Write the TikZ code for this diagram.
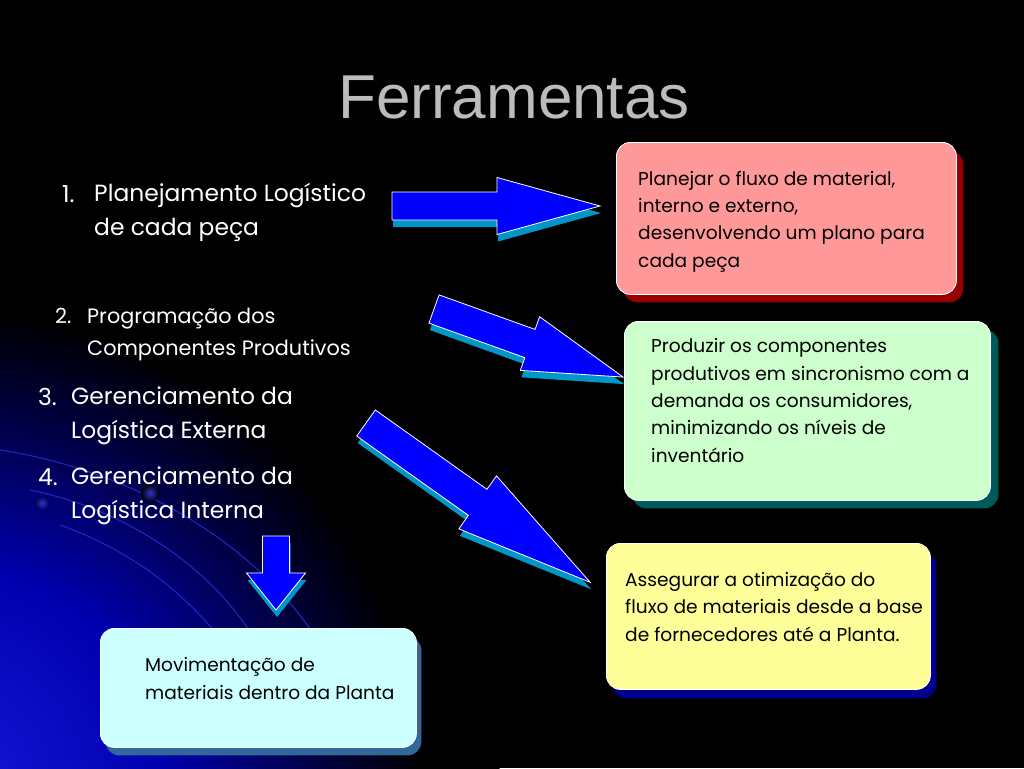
\documentclass[tikz,border=0pt]{standalone}
\usepackage{fontspec}
\setmainfont{Poppins}
\newfontfamily\titlefont{Liberation Sans}
\usetikzlibrary{calc,shadows}

\definecolor{glowA}{RGB}{25,25,220}
\definecolor{glowB}{RGB}{0,0,175}
\definecolor{glowC}{RGB}{0,0,80}
\definecolor{arcblue}{RGB}{35,35,190}
\definecolor{dotblue}{RGB}{50,50,210}
\definecolor{titlegray}{RGB}{188,188,188}
\definecolor{arrowblue}{RGB}{0,0,255}
\definecolor{arrowshadow}{RGB}{0,150,200}
\definecolor{redfill}{RGB}{255,153,153}
\definecolor{redshadow}{RGB}{150,0,0}
\definecolor{greenfill}{RGB}{204,255,204}
\definecolor{greenshadow}{RGB}{0,90,90}
\definecolor{yellowfill}{RGB}{255,255,153}
\definecolor{yellowshadow}{RGB}{0,0,140}
\definecolor{cyanfill}{RGB}{204,255,255}
\definecolor{cyanshadow}{RGB}{51,102,153}

\pgfdeclareradialshading{glow}{\pgfpoint{0bp}{0bp}}{color(0bp)=(glowA); color(10bp)=(glowB); color(16bp)=(glowC); color(21.5bp)=(black); color(25bp)=(black); color(50bp)=(black)}

% #1 tail coordinate, #2 angle, #3 length, #4 shaft width, #5 head width, #6 head length
\newcommand{\blockarrow}[6]{%
  \fill[arrowshadow, shift={($(#1)+(1,7)$)}, rotate=#2]
    (0,{-#4/2}) -- ({#3-#6},{-#4/2}) -- ({#3-#6},{-#5/2}) -- (#3,0) --
    ({#3-#6},{#5/2}) -- ({#3-#6},{#4/2}) -- (0,{#4/2}) -- cycle;
  \filldraw[fill=arrowblue, draw=white, line width=0.8pt, line join=miter, shift={(#1)}, rotate=#2]
    (0,{-#4/2}) -- ({#3-#6},{-#4/2}) -- ({#3-#6},{-#5/2}) -- (#3,0) --
    ({#3-#6},{#5/2}) -- ({#3-#6},{#4/2}) -- (0,{#4/2}) -- cycle;
}

\tikzset{
  box/.style={rectangle, rounded corners=14pt, draw=white, line width=0.8pt, anchor=north west, inner sep=0pt},
  boxtext/.style={anchor=base west, inner sep=0pt, align=left, text=black, font=\fontsize{18.6}{27.3}\selectfont},
  itemtext/.style={anchor=base west, inner sep=0pt, align=left, text=white, font=\fontsize{23.4}{33.5}\selectfont},
  itemtextsmall/.style={anchor=base west, inner sep=0pt, align=left, text=white, font=\fontsize{20.8}{32}\selectfont},
  bgarc/.style={draw=arcblue, line width=1.1pt},
}

\begin{document}
\begin{tikzpicture}[x=1pt,y=-1pt]
\useasboundingbox (0,0) rectangle (1024,768);
\fill[black] (0,0) rectangle (1024,768);
\begin{scope}
  \clip (0,0) rectangle (1024,768);
  \shade[shading=glow] (-60,790) circle (560);
  \draw[bgarc] (0,450) .. controls (130,470) and (250,540) .. (312,632);
  \draw[bgarc] (30,490) .. controls (130,510) and (210,570) .. (250,632);
  \draw[bgarc] (60,525) .. controls (130,550) and (180,590) .. (215,632);
  \shade[inner color=dotblue, outer color=glowC] (42,503) circle (7);
  \shade[inner color=dotblue, outer color=black] (150,493) circle (9);
\end{scope}

% title
\node[font=\titlefont\fontsize{62}{70}\selectfont, text=titlegray, anchor=base, inner sep=0pt] (title) at (514,118) {Ferramentas};

% boxes
\node[box, fill=redfill, minimum width=340pt, minimum height=152pt,
  drop shadow={shadow xshift=7pt, shadow yshift=-8pt, fill=redshadow, opacity=1}] (redbox) at (616,142) {};
\node[box, fill=greenfill, minimum width=366pt, minimum height=179pt,
  drop shadow={shadow xshift=8pt, shadow yshift=-8pt, fill=greenshadow, opacity=1}] (greenbox) at (624,321) {};
\node[box, fill=yellowfill, minimum width=324pt, minimum height=146pt,
  drop shadow={shadow xshift=6pt, shadow yshift=-9pt, fill=yellowshadow, opacity=1}] (yellowbox) at (606,543) {};
\node[box, fill=cyanfill, minimum width=316pt, minimum height=119pt,
  drop shadow={shadow xshift=5pt, shadow yshift=-8pt, fill=cyanshadow, opacity=1}] (cyanbox) at (100,628) {};

% box texts (anchored at the baseline of their last line)
\node[boxtext] (redtext) at (638,267) {Planejar o fluxo de material,\\interno e externo,\\desenvolvendo um plano para\\cada peça};
\node[boxtext] (greentext) at (651,462) {Produzir os componentes\\produtivos em sincronismo com a\\demanda os consumidores,\\minimizando os níveis de\\inventário};
\node[boxtext] (yellowtext) at (625,641) {Assegurar a otimização do\\fluxo de materiais desde a base\\de fornecedores até a Planta.};
\node[boxtext] (cyantext) at (145,699) {Movimentação de\\materiais dentro da Planta};

% list
\node[itemtext] (n1) at (62,202) {1.};
\node[itemtext] (t1) at (94,235) {Planejamento Logístico\\de cada peça};
\node[itemtextsmall] (n2) at (55,323) {2.};
\node[itemtextsmall] (t2) at (87,355) {Programação dos\\Componentes Produtivos};
\node[itemtext] (n3) at (38,405) {3.};
\node[itemtext] (t3) at (71,438) {Gerenciamento da\\Logística Externa};
\node[itemtext] (n4) at (38,485) {4.};
\node[itemtext] (t4) at (71,518) {Gerenciamento da\\Logística Interna};

% arrows
\coordinate (a1) at (392,206);
\coordinate (a2) at (434,309);
\coordinate (a3) at (366,423);
\coordinate (a4) at (276,536);
\blockarrow{a1}{0}{208}{28}{57}{103}
\blockarrow{a2}{-19.8}{201}{30}{57}{99}
\blockarrow{a3}{-35.4}{275}{32}{65}{138}
\blockarrow{a4}{-90}{74}{27}{59}{37}
\end{tikzpicture}
\end{document}
